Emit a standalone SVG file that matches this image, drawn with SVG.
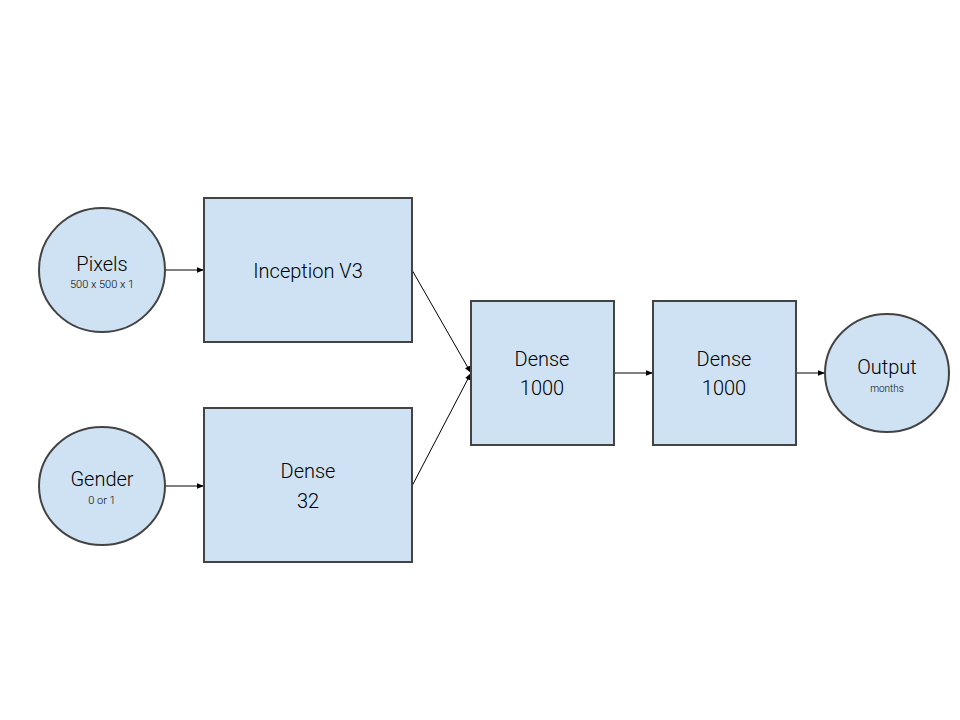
<svg xmlns="http://www.w3.org/2000/svg" width="960" height="720" viewBox="0 0 960 720">
<defs>
<style>
.n{fill:#cfe2f3;stroke:#434343;stroke-width:2}
.t{font-family:"Roboto","Liberation Sans",sans-serif;font-weight:300;fill:#000;text-anchor:middle;dominant-baseline:central}
.big{font-size:20px}
.sm{font-size:11px}
.c{stroke:#000;stroke-width:1;fill:none;marker-end:url(#a)}
</style>
<marker id="a" viewBox="0 0 10 10" refX="10" refY="5" markerWidth="7" markerHeight="7" orient="auto" markerUnits="userSpaceOnUse">
<path d="M0,1 L10,5 L0,9 z" fill="#000"/>
</marker>
</defs>
<rect width="960" height="720" fill="#fff"/>
<g id="connectors">
<line class="c" x1="165" y1="270" x2="204" y2="270"/>
<line class="c" x1="165" y1="486" x2="204" y2="486"/>
<line class="c" x1="412" y1="270" x2="471" y2="373"/>
<line class="c" x1="412" y1="486" x2="471" y2="373"/>
<line class="c" x1="614" y1="373" x2="653" y2="373"/>
<line class="c" x1="796" y1="373" x2="825" y2="373"/>
</g>
<g id="pixels">
<ellipse class="n" cx="102" cy="270" rx="63" ry="62"/>
<text class="t big" x="102" y="264">Pixels</text>
<text class="t sm" x="102" y="284">500 x 500 x 1</text>
</g>
<g id="gender">
<ellipse class="n" cx="102" cy="486" rx="63" ry="59"/>
<text class="t big" x="102" y="479">Gender</text>
<text class="t sm" x="102" y="500">0 or 1</text>
</g>
<g id="inception">
<rect class="n" x="204" y="198" width="208" height="144"/>
<text class="t big" x="308" y="271">Inception V3</text>
</g>
<g id="dense32">
<rect class="n" x="204" y="408" width="208" height="154"/>
<text class="t big" x="308" y="471">Dense</text>
<text class="t big" x="308" y="501">32</text>
</g>
<g id="dense1000a">
<rect class="n" x="471" y="301" width="143" height="144"/>
<text class="t big" x="542" y="359">Dense</text>
<text class="t big" x="542" y="388">1000</text>
</g>
<g id="dense1000b">
<rect class="n" x="653" y="301" width="143" height="144"/>
<text class="t big" x="724" y="359">Dense</text>
<text class="t big" x="724" y="388">1000</text>
</g>
<g id="output">
<ellipse class="n" cx="887" cy="373" rx="62" ry="59"/>
<text class="t big" x="887" y="367">Output</text>
<text class="t" style="font-size:10px" x="887" y="388">months</text>
</g>
</svg>
